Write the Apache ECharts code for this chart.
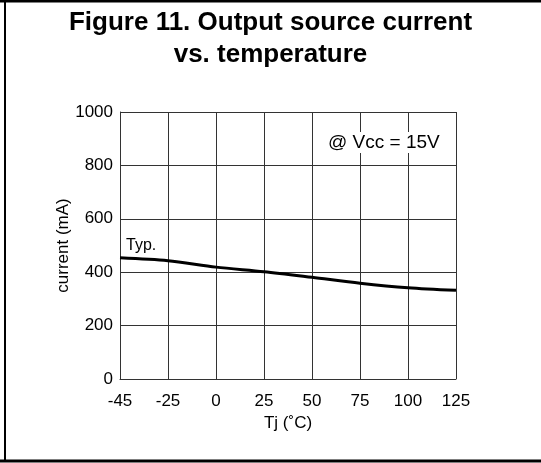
<!DOCTYPE html>
<html>
<head>
<meta charset="utf-8">
<script src="https://cdn.jsdelivr.net/npm/echarts@6/dist/echarts.min.js"></script>
<style>
  html, body { margin: 0; padding: 0; background: #fff; }
  #chart { width: 541px; height: 463px; }
</style>
</head>
<body>
<div id="chart"></div>
<script>
// temperature categories (Tj, °C) - evenly spaced on the chart
var temps = ['-45', '-25', '0', '25', '50', '75', '100', '125'];
// typical output source current (mA)
var current = [454, 443, 419, 402, 381, 359, 342, 332];
var yTicks = { min: 0, max: 1000, step: 200 };

var font = 'Liberation Sans, Arial, sans-serif';
var myCharts = echarts.init(document.getElementById('chart'));

var option = {
    animation: false,
    backgroundColor: '#fff',
    title: {
        text: 'Figure 11. Output source current\nvs. temperature',
        left: 'center',
        top: 2,
        textStyle: {
            fontFamily: font,
            fontSize: 26,
            fontWeight: 'bold',
            color: '#000',
            lineHeight: 32
        }
    },
    grid: {
        left: 120,
        right: 85,
        top: 112,
        bottom: 84
    },
    xAxis: {
        type: 'category',
        boundaryGap: false,
        data: temps,
        name: 'Tj (˚C)',
        nameLocation: 'middle',
        nameGap: 36,
        nameTextStyle: { fontFamily: font, fontSize: 17, color: '#000' },
        axisLine: { lineStyle: { color: '#333', width: 1 } },
        axisTick: { show: false },
        axisLabel: { fontFamily: font, fontSize: 17, color: '#000', margin: 14 },
        splitLine: { show: true, lineStyle: { color: '#333', width: 1 } }
    },
    yAxis: {
        type: 'value',
        min: yTicks.min,
        max: yTicks.max,
        interval: yTicks.step,
        name: 'current (mA)',
        nameLocation: 'middle',
        nameGap: 48,
        nameMoveOverlap: false,
        nameRotate: 90,
        nameTextStyle: { fontFamily: font, fontSize: 17, color: '#000' },
        axisLine: { show: true, lineStyle: { color: '#333', width: 1 } },
        axisTick: { show: false },
        axisLabel: {
            fontFamily: font, fontSize: 17, color: '#000', margin: 7,
            formatter: function (v) { return String(v); }
        },
        splitLine: { show: true, lineStyle: { color: '#333', width: 1 } }
    },
    graphic: [
        // outer frame: top, left, bottom
        { type: 'line', shape: { x1: 0, y1: 1, x2: 541, y2: 1 }, style: { stroke: '#000', lineWidth: 3 } },
        { type: 'line', shape: { x1: 5, y1: 0, x2: 5, y2: 461 }, style: { stroke: '#000', lineWidth: 2 } },
        { type: 'line', shape: { x1: 0, y1: 461, x2: 541, y2: 461 }, style: { stroke: '#000', lineWidth: 3 } },
        {
            type: 'text', left: 126, top: 238, z: 100,
            style: { text: 'Typ.', fontFamily: font, fontSize: 16, fill: '#000' }
        },
        {
            type: 'text', left: 326, top: 132, z: 100,
            style: {
                text: '@ Vcc = 15V', fontFamily: font, fontSize: 19, fill: '#000',
                backgroundColor: '#fff', padding: [1, 2]
            }
        }
    ],
    series: [{
        type: 'line',
        data: current,
        smooth: 0.3,
        symbol: 'none',
        lineStyle: { color: '#000', width: 3 }
    }]
};
myCharts.setOption(option);
</script>
</body>
</html>
